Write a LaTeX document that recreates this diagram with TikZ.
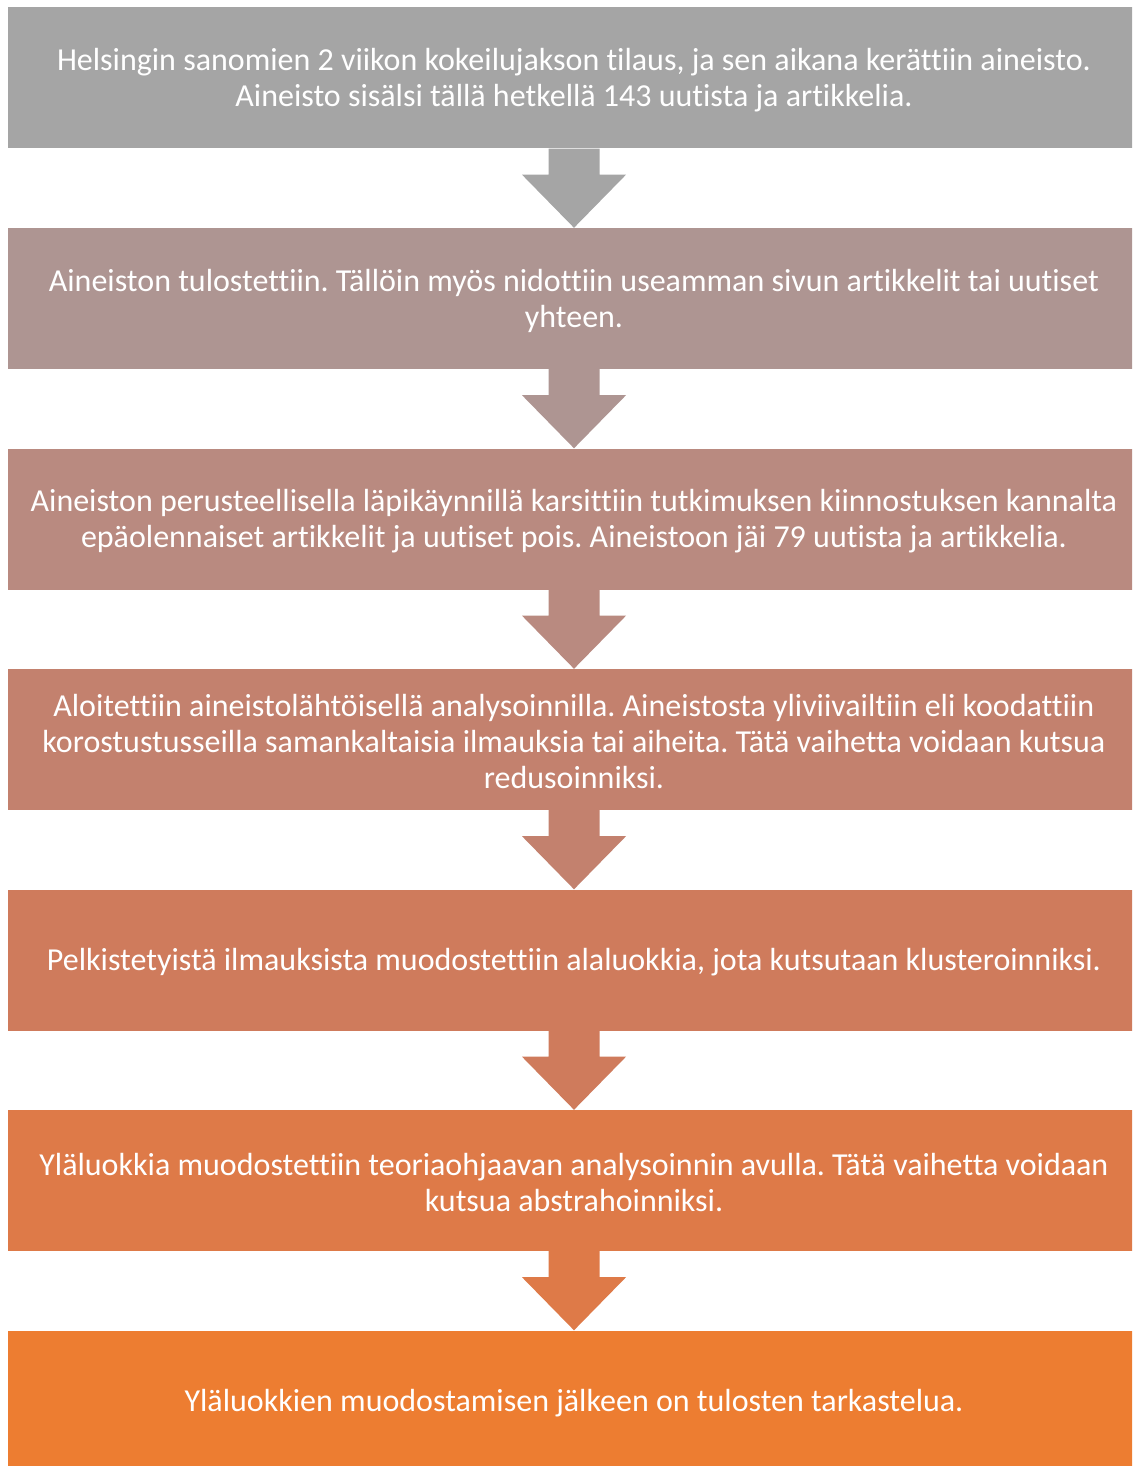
\documentclass[tikz,border=0pt]{standalone}
\usepackage{fontspec}
\setmainfont{Carlito}[Ligatures={NoCommon,NoContextual}]
\usetikzlibrary{calc}
\frenchspacing
\definecolor{cA}{HTML}{A5A5A5}
\definecolor{cB}{HTML}{AE9592}
\definecolor{cC}{HTML}{B98A80}
\definecolor{cD}{HTML}{C3816E}
\definecolor{cE}{HTML}{CF7B5C}
\definecolor{cF}{HTML}{DE7A48}
\definecolor{cG}{HTML}{ED7D31}
\tikzset{
  stepbox/.style={fill=#1, draw=none, minimum width=1132pt, minimum height=141pt,
    inner sep=0pt},
  steptext/.style={inner sep=0pt, text=white, align=center,
    font=\fontsize{32}{36}\selectfont},
}
\newcommand{\flowarrow}[3]{%
  \fill[#3] ($(#1.south)+(-25.5,0)$) -- ($(#1.south)+(25.5,0)$) -- ($(#1.south)+(25.5,-26)$)
    -- ($(#1.south)+(52,-26)$) -- (#2.north) -- ($(#1.south)+(-52,-26)$)
    -- ($(#1.south)+(-25.5,-26)$) -- cycle;}
\newcommand{\steplabel}[2]{\node[steptext] (t#1) at ($(b#1.center)+(0,-2.5)$) {#2};}
\begin{document}
\begin{tikzpicture}[x=1pt,y=1pt]
\useasboundingbox (0,0) rectangle (1132,-1466);
\clip (0,0) rectangle (1132,-1466);
\node[stepbox=cA] (b1) at (574,-78) {};
\node[stepbox=cB] (b2) at (574,-298.5) {};
\node[stepbox=cC] (b3) at (574,-519) {};
\node[stepbox=cD] (b4) at (574,-739.5) {};
\node[stepbox=cE] (b5) at (574,-960) {};
\node[stepbox=cF] (b6) at (574,-1180.5) {};
\node[stepbox=cG] (b7) at (574,-1401) {};
\steplabel{1}{Helsingin sanomien 2 viikon kokeilujakson tilaus, ja sen aikana kerättiin aineisto.\\Aineisto sisälsi tällä hetkellä 143 uutista ja artikkelia.}
\steplabel{2}{Aineiston tulostettiin. Tällöin myös nidottiin useamman sivun artikkelit tai uutiset\\yhteen.}
\steplabel{3}{Aineiston perusteellisella läpikäynnillä karsittiin tutkimuksen kiinnostuksen kannalta\\epäolennaiset artikkelit ja uutiset pois. Aineistoon jäi 79 uutista ja artikkelia.}
\steplabel{4}{Aloitettiin aineistolähtöisellä analysoinnilla. Aineistosta yliviivailtiin eli koodattiin\\korostustusseilla samankaltaisia ilmauksia tai aiheita. Tätä vaihetta voidaan kutsua\\redusoinniksi.}
\steplabel{5}{Pelkistetyistä ilmauksista muodostettiin alaluokkia, jota kutsutaan klusteroinniksi.}
\steplabel{6}{Yläluokkia muodostettiin teoriaohjaavan analysoinnin avulla. Tätä vaihetta voidaan\\kutsua abstrahoinniksi.}
\steplabel{7}{Yläluokkien muodostamisen jälkeen on tulosten tarkastelua.}
\flowarrow{b1}{b2}{cA}
\flowarrow{b2}{b3}{cB}
\flowarrow{b3}{b4}{cC}
\flowarrow{b4}{b5}{cD}
\flowarrow{b5}{b6}{cE}
\flowarrow{b6}{b7}{cF}
\end{tikzpicture}
\end{document}
